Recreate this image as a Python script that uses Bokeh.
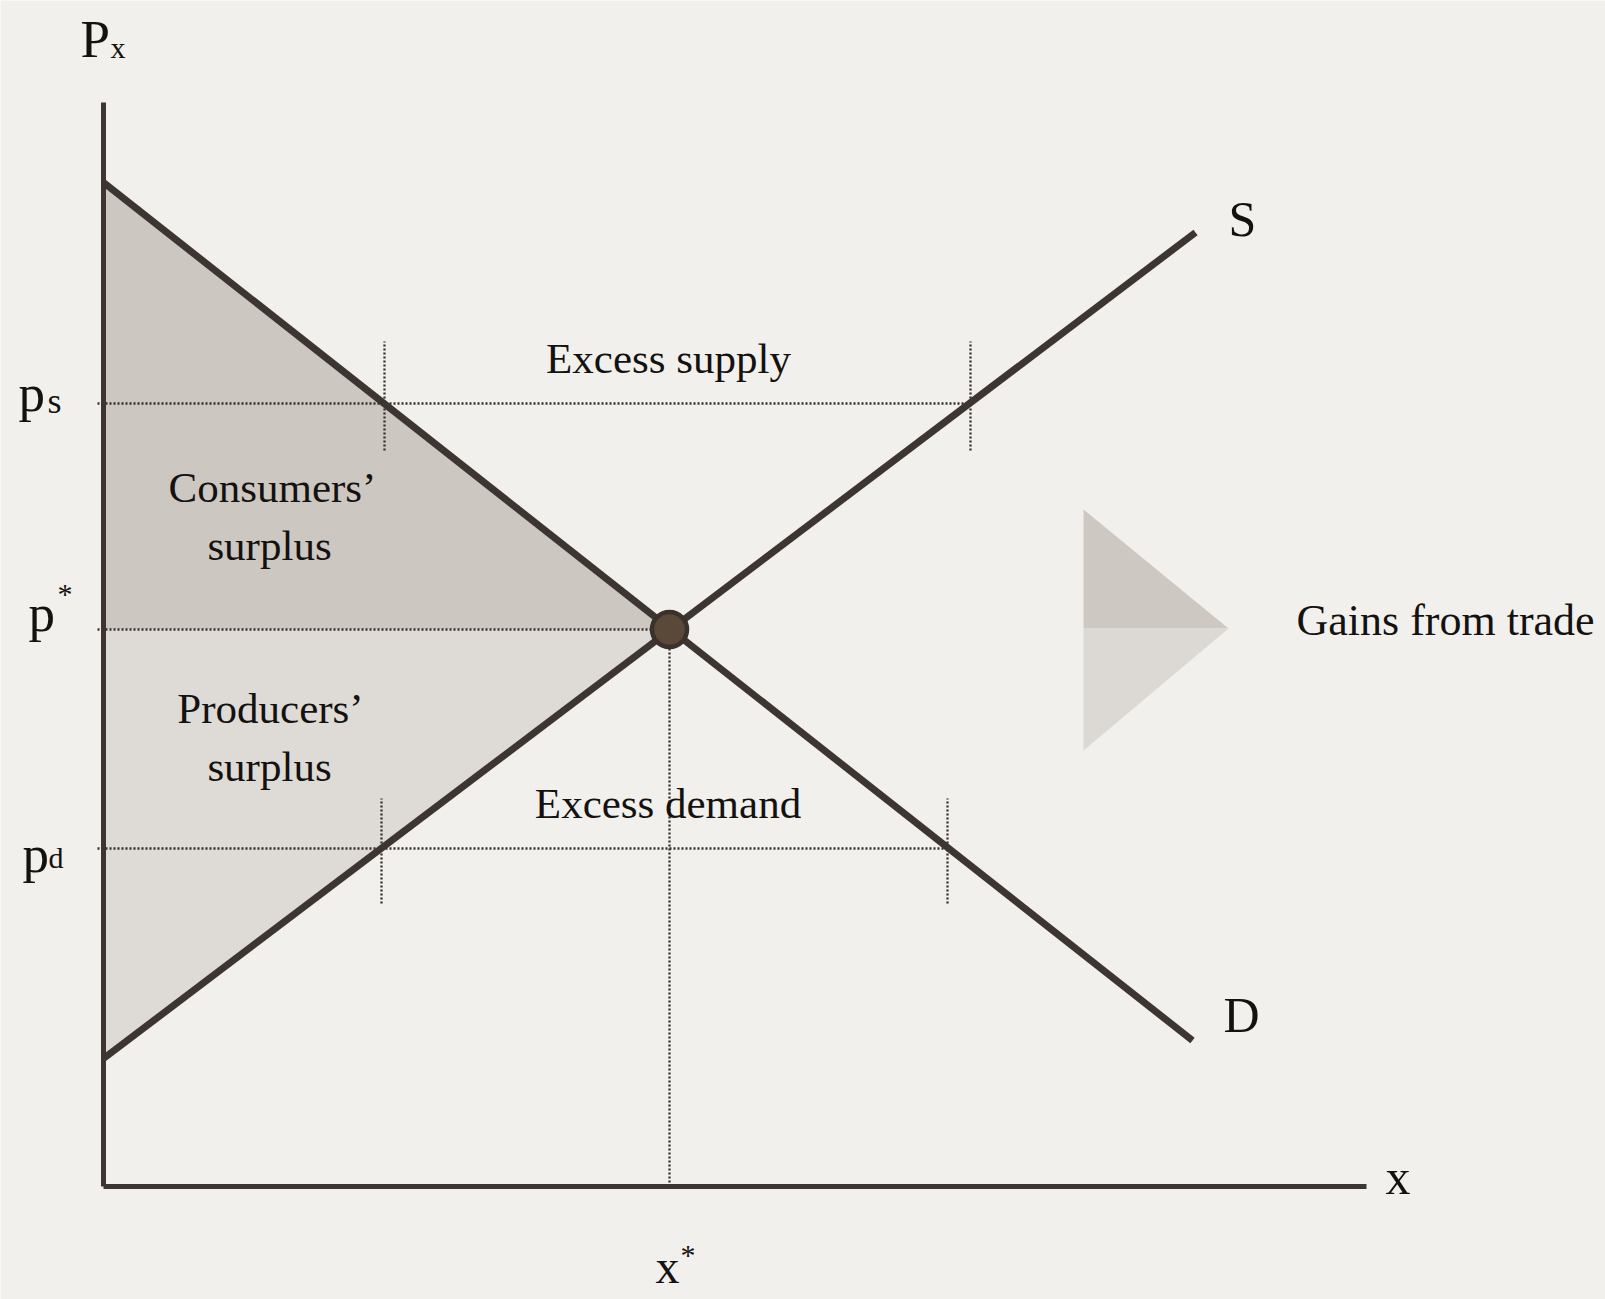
from bokeh.plotting import figure
from bokeh.models import Range1d
from bokeh.embed import file_html
from bokeh.resources import INLINE
from bokeh.core.properties import value

# ---- data (price / quantity units) ----
axis_x_max = 12.63
axis_y_max = 10.84
demand_x = [0.0, 10.89]
demand_p = [10.04, 1.46]
supply_x = [0.0, 10.92]
supply_p = [1.28, 9.54]
x_star = 5.66
p_star = 5.57
p_s = 7.83
p_d = 3.38
excess_supply_x = [2.81, 8.67]   # demand & supply quantities at p_s
excess_demand_x = [2.78, 8.44]   # supply & demand quantities at p_d
gains_tri_x = [9.80, 11.25]
gains_tri_y = [6.77, 5.58, 4.36]

PAPER = "#f2f0ec"
INK = "#3d3531"
DOT = "#352e2a"
TXT = "#141210"
FONT = value("Liberation Serif")

p = figure(width=1605, height=1299,
           x_range=Range1d(-1.03, 15.02), y_range=Range1d(-1.13, 11.86),
           output_backend="svg", toolbar_location=None,
           x_axis_type=None, y_axis_type=None, min_border=0)
p.background_fill_color = PAPER
p.border_fill_color = PAPER
p.outline_line_color = None
p.xgrid.grid_line_color = None
p.ygrid.grid_line_color = None

# surplus areas
p.patch([0, x_star, 0], [demand_p[0], p_star, p_star],
        fill_color="#cdc7c1", line_color=None)
p.patch([0, x_star, 0], [p_star, p_star, supply_p[0]],
        fill_color="#dedad5", line_color=None)

# dotted guides
dot = dict(line_color=DOT, line_width=2.3, line_dash="2 2")
p.line([-0.06, excess_supply_x[1]], [p_s, p_s], **dot)
p.line([-0.06, x_star], [p_star, p_star], **dot)
p.line([-0.06, excess_demand_x[1]], [p_d, p_d], **dot)
p.line([x_star, x_star], [0, p_star], **dot)
for xv in excess_supply_x:
    p.line([xv, xv], [p_s - 0.47, p_s + 0.62], **dot)
for xv in excess_demand_x:
    p.line([xv, xv], [p_d - 0.55, p_d + 0.50], **dot)

# axes
p.line([0, 0], [0, axis_y_max], line_color=INK, line_width=5)
p.line([0, axis_x_max], [0, 0], line_color=INK, line_width=5)

# demand & supply
p.line(demand_x, demand_p, line_color=INK, line_width=7)
p.line(supply_x, supply_p, line_color=INK, line_width=7)

# equilibrium point
p.scatter([x_star], [p_star], size=35, fill_color="#5a4938",
          line_color="#3a312c", line_width=4.5)

# gains-from-trade legend triangle
p.patch([gains_tri_x[0], gains_tri_x[0], gains_tri_x[1]],
        [gains_tri_y[0], gains_tri_y[1], gains_tri_y[1]],
        fill_color="#cdc8c2", line_color=None)
p.patch([gains_tri_x[0], gains_tri_x[0], gains_tri_x[1]],
        [gains_tri_y[1], gains_tri_y[2], gains_tri_y[1]],
        fill_color="#dcd8d3", line_color=None)


def txt(x, y, s, size, align="left"):
    p.text(x=[x], y=[y], text=[s], text_font=FONT, text_font_size=f"{size}px",
           text_align=align, text_baseline="alphabetic", text_color=TXT)


# axis labels
txt(-0.23, 11.48, "P", 53)
txt(0.07, 11.39, "x", 30)
txt(12.82, 0.10, "x", 50)
txt(5.52, -0.80, "x", 48)
txt(5.77, -0.68, "*", 30)

# price labels
txt(-0.85, 7.94, "p", 53)
txt(-0.56, 7.86, "s", 36)
txt(-0.75, 5.74, "p", 53)
txt(-0.46, 5.93, "*", 30)
txt(-0.81, 3.33, "p", 53)
txt(-0.55, 3.29, "d", 30)

# curve labels
txt(11.25, 9.68, "S", 50)
txt(11.20, 1.72, "D", 50)

# region labels
txt(5.65, 8.28, "Excess supply", 43, "center")
txt(5.645, 3.83, "Excess demand", 43, "center")
txt(1.69, 6.99, "Consumers\u2019", 43, "center")
txt(1.66, 6.41, "surplus", 43, "center")
txt(1.67, 4.78, "Producers\u2019", 43, "center")
txt(1.66, 4.20, "surplus", 43, "center")
txt(11.93, 5.66, "Gains from trade", 44)

open("out.html", "w").write(file_html(p, INLINE))
